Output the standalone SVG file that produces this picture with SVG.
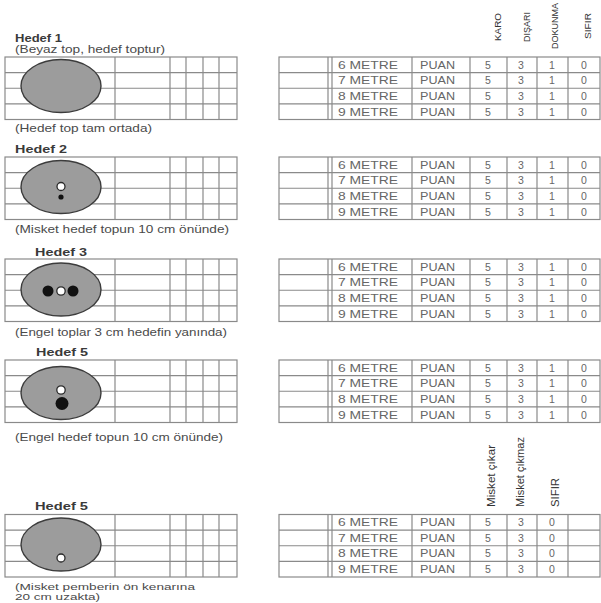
<svg xmlns="http://www.w3.org/2000/svg" xmlns:xlink="http://www.w3.org/1999/xlink" width="601" height="603" viewBox="0 0 601 603">
<style>
.bg{fill:#ffffff}
.grid{fill:none;stroke:#8a8a8a;stroke-width:1.2}
.ball{fill:#9c9c9c;stroke:#3c3c3c;stroke-width:1.4}
.wdot{fill:#ffffff;stroke:#2a2a2a;stroke-width:1.3}
.bdot{fill:#111111}
.title{font-family:"Liberation Sans",Arial,sans-serif;font-size:10px;font-weight:bold;fill:#3a3a3a}
.cap{font-family:"Liberation Sans",Arial,sans-serif;font-size:10.5px;fill:#4a4a4a}
.capS{font-family:"Liberation Sans",Arial,sans-serif;font-size:9px;fill:#4a4a4a}
.cell{font-family:"Liberation Sans",Arial,sans-serif;font-size:10.5px;fill:#666666}
.num{font-family:"Liberation Sans",Arial,sans-serif;font-size:10.5px;fill:#666666;text-anchor:middle}
.hdr{font-family:"Liberation Sans",Arial,sans-serif;font-size:9.5px;fill:#333333}
.hdr2{font-family:"Liberation Sans",Arial,sans-serif;font-size:11.5px;fill:#333333}
</style>
<defs>
<g id="leftGrid">
<rect class="grid" x="5" y="0" width="232" height="62.5"/>
<path class="grid" d="M5 15.6H237M5 31.25H237M5 46.9H237M115 0V62.5M170 0V62.5M186 0V62.5M203 0V62.5M219 0V62.5"/>
</g>
<g id="rightGrid">
<rect class="grid" x="279" y="0" width="321" height="62.5"/>
<path class="grid" d="M279 15.6H600M279 31.25H600M279 46.9H600M328 0V62.5M332 0V62.5M412 0V62.5M470 0V62.5M507 0V62.5M537 0V62.5M568 0V62.5"/>
</g>
<g id="rowsLabels">
<text class="cell" x="338" y="11.6" textLength="60" lengthAdjust="spacingAndGlyphs">6 METRE</text>
<text class="cell" x="338" y="27.2" textLength="60" lengthAdjust="spacingAndGlyphs">7 METRE</text>
<text class="cell" x="338" y="42.9" textLength="60" lengthAdjust="spacingAndGlyphs">8 METRE</text>
<text class="cell" x="338" y="58.5" textLength="60" lengthAdjust="spacingAndGlyphs">9 METRE</text>
<text class="cell" x="420" y="11.6" textLength="35" lengthAdjust="spacingAndGlyphs">PUAN</text>
<text class="cell" x="420" y="27.2" textLength="35" lengthAdjust="spacingAndGlyphs">PUAN</text>
<text class="cell" x="420" y="42.9" textLength="35" lengthAdjust="spacingAndGlyphs">PUAN</text>
<text class="cell" x="420" y="58.5" textLength="35" lengthAdjust="spacingAndGlyphs">PUAN</text>
<text class="num" x="488" y="11.6">5</text>
<text class="num" x="488" y="27.2">5</text>
<text class="num" x="488" y="42.9">5</text>
<text class="num" x="488" y="58.5">5</text>
<text class="num" x="521" y="11.6">3</text>
<text class="num" x="521" y="27.2">3</text>
<text class="num" x="521" y="42.9">3</text>
<text class="num" x="521" y="58.5">3</text>
</g>
<g id="scores4">
<use xlink:href="#rowsLabels"/>
<text class="num" x="552" y="11.6">1</text>
<text class="num" x="552" y="27.2">1</text>
<text class="num" x="552" y="42.9">1</text>
<text class="num" x="552" y="58.5">1</text>
<text class="num" x="584" y="11.6">0</text>
<text class="num" x="584" y="27.2">0</text>
<text class="num" x="584" y="42.9">0</text>
<text class="num" x="584" y="58.5">0</text>
</g>
</defs>
<rect class="bg" x="0" y="0" width="601" height="603"/>

<g id="header1">
<text class="hdr" transform="translate(500.5,41) rotate(-90)" textLength="28" lengthAdjust="spacingAndGlyphs">KARO</text>
<text class="hdr" transform="translate(529.5,42) rotate(-90)" textLength="30" lengthAdjust="spacingAndGlyphs">DIŞARI</text>
<text class="hdr" transform="translate(557.5,49) rotate(-90)" textLength="46" lengthAdjust="spacingAndGlyphs">DOKUNMA</text>
<text class="hdr" transform="translate(590.5,39) rotate(-90)" textLength="26" lengthAdjust="spacingAndGlyphs">SIFIR</text>
</g>

<g id="hedef1">
<text class="title" x="15" y="41.5" textLength="47" lengthAdjust="spacingAndGlyphs">Hedef  1</text>
<text class="cap" x="15" y="53" textLength="150" lengthAdjust="spacingAndGlyphs">(Beyaz top, hedef toptur)</text>
<use xlink:href="#leftGrid" transform="translate(0,57)"/>
<ellipse class="ball" cx="61" cy="86" rx="40" ry="26.5"/>
<text class="cap" x="15" y="132" textLength="137" lengthAdjust="spacingAndGlyphs">(Hedef top tam ortada)</text>
</g>
<g id="table1">
<use xlink:href="#rightGrid" transform="translate(0,57)"/>
<use xlink:href="#scores4" transform="translate(0,57)"/>
</g>

<g id="hedef2">
<text class="title" x="15" y="153" textLength="52" lengthAdjust="spacingAndGlyphs">Hedef  2</text>
<use xlink:href="#leftGrid" transform="translate(0,157)"/>
<ellipse class="ball" cx="61" cy="187" rx="40" ry="26.5"/>
<circle class="wdot" cx="61" cy="186.5" r="4"/>
<circle class="bdot" cx="61" cy="197" r="2.6"/>
<text class="cap" x="15" y="233" textLength="214" lengthAdjust="spacingAndGlyphs">(Misket hedef topun 10 cm önünde)</text>
</g>
<g id="table2">
<use xlink:href="#rightGrid" transform="translate(0,157)"/>
<use xlink:href="#scores4" transform="translate(0,157)"/>
</g>

<g id="hedef3">
<text class="title" x="35" y="256" textLength="52" lengthAdjust="spacingAndGlyphs">Hedef  3</text>
<use xlink:href="#leftGrid" transform="translate(0,259)"/>
<ellipse class="ball" cx="61" cy="289.5" rx="40" ry="26.5"/>
<circle class="bdot" cx="48" cy="291" r="5.5"/>
<circle class="bdot" cx="73" cy="291" r="5.5"/>
<circle class="wdot" cx="61" cy="291" r="4.2"/>
<text class="cap" x="15" y="336" textLength="212" lengthAdjust="spacingAndGlyphs">(Engel toplar 3 cm hedefin yanında)</text>
</g>
<g id="table3">
<use xlink:href="#rightGrid" transform="translate(0,259)"/>
<use xlink:href="#scores4" transform="translate(0,259)"/>
</g>

<g id="hedef4">
<text class="title" x="36" y="356" textLength="52" lengthAdjust="spacingAndGlyphs">Hedef  5</text>
<use xlink:href="#leftGrid" transform="translate(0,360)"/>
<ellipse class="ball" cx="61" cy="393" rx="40" ry="26.5"/>
<circle class="wdot" cx="61" cy="390" r="4.2"/>
<circle class="bdot" cx="62" cy="403.5" r="6.5"/>
<text class="cap" x="15" y="441" textLength="208" lengthAdjust="spacingAndGlyphs">(Engel hedef topun 10 cm önünde)</text>
</g>
<g id="table4">
<use xlink:href="#rightGrid" transform="translate(0,360)"/>
<use xlink:href="#scores4" transform="translate(0,360)"/>
</g>

<g id="header5">
<text class="hdr2" transform="translate(494.5,507) rotate(-90)" textLength="62" lengthAdjust="spacingAndGlyphs">Misket çıkar</text>
<text class="hdr2" transform="translate(524,507) rotate(-90)" textLength="70" lengthAdjust="spacingAndGlyphs">Misket çıkmaz</text>
<text class="hdr2" transform="translate(558.5,507) rotate(-90)" textLength="29" lengthAdjust="spacingAndGlyphs">SIFIR</text>
</g>

<g id="hedef5">
<text class="title" x="35" y="510" textLength="53" lengthAdjust="spacingAndGlyphs">Hedef  5</text>
<use xlink:href="#leftGrid" transform="translate(0,514.5)"/>
<ellipse class="ball" cx="61" cy="544.5" rx="40" ry="26.5"/>
<circle class="wdot" cx="61" cy="558" r="4"/>
<text class="capS" x="15" y="589.5" textLength="180" lengthAdjust="spacingAndGlyphs">(Misket pemberin ön kenarına</text>
<text class="capS" x="15" y="600" textLength="85" lengthAdjust="spacingAndGlyphs">20 cm uzakta)</text>
</g>
<g id="table5">
<use xlink:href="#rightGrid" transform="translate(0,514.5)"/>
<use xlink:href="#rowsLabels" transform="translate(0,514.5)"/>
<text class="num" x="552" y="526.1">0</text>
<text class="num" x="552" y="541.7">0</text>
<text class="num" x="552" y="557.4">0</text>
<text class="num" x="552" y="573">0</text>
</g>
<g id="connectors"/>
</svg>
